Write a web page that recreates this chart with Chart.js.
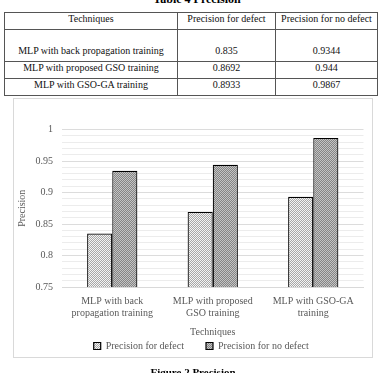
<!DOCTYPE html>
<html>
<head>
<meta charset="utf-8">
<script src="https://cdn.jsdelivr.net/npm/chart.js@4.4.1/dist/chart.umd.min.js"></script>
<style>
  html, body { margin: 0; padding: 0; background: #fff; }
  body { width: 381px; height: 373px; position: relative; overflow: hidden; font-family: "Liberation Serif", "Times New Roman", serif; }
  .caption { position: absolute; font-weight: bold; font-size: 12px; line-height: 12px; white-space: nowrap; color: #000; transform: translateX(-50%); }
  #tableCaption { left: 197px; top: -7px; }
  #figCaption { left: 193px; top: 366px; font-size: 11px; }
  table { position: absolute; left: 4px; top: 12px; width: 373px; border-collapse: collapse; table-layout: fixed; font-size: 10px; line-height: 12px; color: #111; }
  td, th { border: 1px solid #555; text-align: center; vertical-align: bottom; padding: 0 0 4px 0; font-weight: normal; overflow: hidden; white-space: nowrap; }
  #chartBox { position: absolute; left: 13px; top: 98px; width: 360px; height: 260px; }
  #frame { position: absolute; left: 13px; top: 98px; width: 360px; height: 260px; box-sizing: border-box; border: 1px solid #d9d9d9; pointer-events: none; }
</style>
</head>
<body>
<div class="caption" id="tableCaption">Table 4 Precision</div>
<table>
  <colgroup><col style="width:173px"><col style="width:98px"><col style="width:102px"></colgroup>
  <thead><tr style="height:17px"><th>Techniques</th><th id="h1"></th><th id="h2"></th></tr></thead>
  <tbody id="rows"></tbody>
</table>
<div id="chartBox"><canvas id="precisionChart"></canvas></div>
<div id="frame"></div>
<div class="caption" id="figCaption">Figure 2 Precision</div>

<script>
// ---- data ----
const techniques = [
  "MLP with back propagation training",
  "MLP with proposed GSO training",
  "MLP with GSO-GA training"
];
const categories = [
  ["MLP with back", "propagation training"],
  ["MLP with proposed", "GSO training"],
  ["MLP with GSO-GA", "training"]
];
const seriesNames = ["Precision for defect", "Precision for no defect"];
const precisionDefect = [0.835, 0.8692, 0.8933];
const precisionNoDefect = [0.9344, 0.944, 0.9867];
const yLabels = [0.75, 0.8, 0.85, 0.9, 0.95, 1];

const textGray = "#595959";
const serif = '"Liberation Serif", "Times New Roman", serif';

// ---- table ----
document.getElementById("h1").textContent = seriesNames[0];
document.getElementById("h2").textContent = seriesNames[1];
const rowHeights = [32, 17, 17];
const tbody = document.getElementById("rows");
techniques.forEach((t, i) => {
  const tr = document.createElement("tr");
  tr.style.height = rowHeights[i] + "px";
  [t, String(precisionDefect[i]), String(precisionNoDefect[i])].forEach(v => {
    const td = document.createElement("td");
    td.textContent = v;
    tr.appendChild(td);
  });
  tbody.appendChild(tr);
});

// ---- fill patterns (Excel-like dither) ----
function dither(base, dot) {
  const c = document.createElement("canvas");
  c.width = 2; c.height = 2;
  const g = c.getContext("2d");
  g.fillStyle = base; g.fillRect(0, 0, 2, 2);
  g.fillStyle = dot; g.fillRect(0, 0, 1, 1); g.fillRect(1, 1, 1, 1);
  return g.createPattern(c, "repeat");
}
const lightFill = dither("#f4f4f4", "#a8a8a8");
const darkFill = dither("#c4c4c4", "#858585");

const isLabelled = v => yLabels.some(t => Math.abs(t - v) < 1e-6);

// nudge the centred legend a bit to the right, like the original
const legendShift = {
  id: "legendShift",
  afterLayout(chart) { chart.legend.left += 26; }
};

new Chart(document.getElementById("precisionChart"), {
  type: "bar",
  data: {
    labels: categories,
    datasets: [
      { label: seriesNames[0], data: precisionDefect, backgroundColor: lightFill, borderColor: "#000", borderWidth: 1.2 },
      { label: seriesNames[1], data: precisionNoDefect, backgroundColor: darkFill, borderColor: "#000", borderWidth: 1.2 }
    ]
  },
  plugins: [legendShift],
  options: {
    responsive: true,
    maintainAspectRatio: false,
    animation: false,
    layout: { padding: { top: 31.5, right: 9.5, bottom: 0, left: 0 } },
    datasets: { bar: { categoryPercentage: 0.5, barPercentage: 1 } },
    scales: {
      x: {
        grid: { display: false, drawTicks: false },
        border: { color: "#d9d9d9" },
        ticks: { color: textGray, padding: 9, font: { family: serif, size: 10, lineHeight: 1.15 }, maxRotation: 0 },
        title: { display: true, text: "Techniques", color: textGray, padding: { top: 0, bottom: 0.5 }, font: { family: serif, size: 10, lineHeight: 1.15 } },
        afterFit: s => { s.height = 52; }
      },
      y: {
        min: 0.75,
        max: 1,
        border: { display: false },
        grid: { drawTicks: false, color: c => isLabelled(c.tick.value) ? "#dcdcdc" : "#ececec" },
        ticks: {
          stepSize: 0.01,
          autoSkip: false,
          padding: 9,
          color: textGray,
          font: { family: serif, size: 10 },
          callback: v => isLabelled(v) ? String(Math.round(v * 100) / 100) : ""
        },
        title: { display: true, text: "Precision", color: textGray, padding: { top: 4, bottom: 0 }, font: { family: serif, size: 10, lineHeight: 1.15 } },
        afterFit: s => { s.width = 49; }
      }
    },
    plugins: {
      tooltip: { enabled: false },
      legend: {
        position: "bottom",
        maxHeight: 19,
        labels: {
          boxWidth: 7,
          boxHeight: 7,
          padding: 2,
          color: textGray,
          font: { family: serif, size: 10 },
          generateLabels(chart) {
            const items = Chart.defaults.plugins.legend.labels.generateLabels(chart);
            items[0].text += "\u00a0".repeat(8);
            return items;
          }
        }
      }
    }
  }
});
</script>
</body>
</html>
